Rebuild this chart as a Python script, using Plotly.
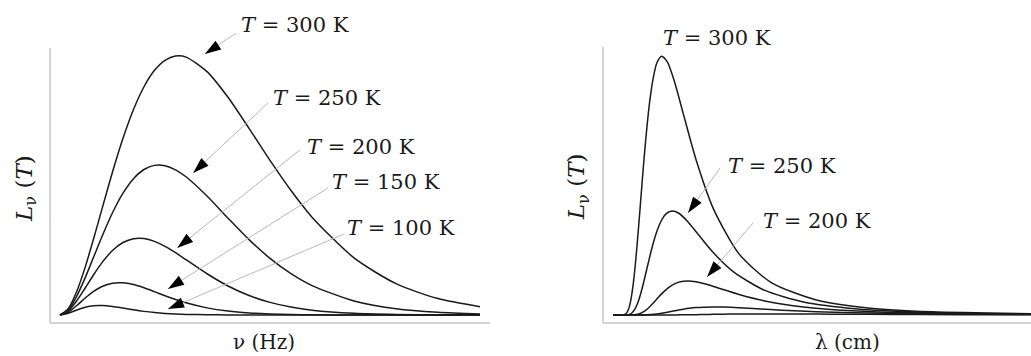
import plotly.graph_objects as go

# ---- Spectral radiance per unit frequency (left panel) ----
nu = [0, 0.2, 0.4, 0.6, 0.8, 1.0, 1.25, 1.5, 1.75, 2.0, 2.25, 2.5, 2.75, 3.0,
      3.5, 4.0, 4.5, 5.0, 5.5, 6.0, 7.0, 8.0, 9.0, 10.0]
L_nu_300 = [0, 0.0361, 0.1301, 0.2627, 0.4178, 0.5820, 0.7843, 0.9693, 1.1272, 1.2521,
            1.3420, 1.3973, 1.4203, 1.4147, 1.3350, 1.1941, 1.0237, 0.8480, 0.6827,
            0.5367, 0.3131, 0.1718, 0.0900, 0.0454]
L_nu_250 = [0, 0.0295, 0.1039, 0.2048, 0.3177, 0.4310, 0.5610, 0.6684, 0.7479, 0.7981,
            0.8207, 0.8187, 0.7964, 0.7585, 0.6527, 0.5311, 0.4134, 0.3106, 0.2266,
            0.1614, 0.0771, 0.0347, 0.0149, 0.0061]
L_nu_200 = [0, 0.0229, 0.0778, 0.1480, 0.2207, 0.2872, 0.3538, 0.3976, 0.4185, 0.4192,
            0.4036, 0.3763, 0.3417, 0.3033, 0.2262, 0.1590, 0.1068, 0.0692, 0.0435,
            0.0267, 0.0094, 0.0031, 0.0010, 0.0003]
L_nu_150 = [0, 0.0163, 0.0522, 0.0931, 0.1295, 0.1565, 0.1747, 0.1768, 0.1669, 0.1493,
            0.1280, 0.1060, 0.0853, 0.0671, 0.0391, 0.0215, 0.0112, 0.0057, 0.0028,
            0.0013, 0.0003, 0.0001, 0.0, 0.0]
L_nu_100 = [0, 0.0097, 0.0276, 0.0428, 0.0511, 0.0524, 0.0470, 0.0379, 0.0283, 0.0199,
            0.0134, 0.0086, 0.0054, 0.0033, 0.0012, 0.0004, 0.0001, 0, 0, 0, 0, 0, 0, 0]

# ---- Spectral radiance per unit wavelength (right panel) ----
lam_300 = [0.012, 0.05, 0.0625, 0.0714, 0.08, 0.0909, 0.1, 0.1111, 0.125, 0.1333, 0.1429,
           0.1538, 0.1667, 0.1818, 0.2, 0.2222, 0.25, 0.2857, 0.3333, 0.4, 0.5, 0.625,
           0.8, 1.0, 1.25, 1.667]
L_lam_300 = [0, 0.0003, 0.0056, 0.0211, 0.0536, 0.1268, 0.2141, 0.3436, 0.5184, 0.6191,
             0.7232, 0.8237, 0.9110, 0.9737, 0.9995, 0.9774, 0.9008, 0.7711, 0.6003,
             0.4117, 0.2361, 0.1251, 0.0578, 0.0274, 0.0126, 0.0045]
lam_250 = [0.012, 0.06, 0.075, 0.0857, 0.096, 0.1091, 0.12, 0.1333, 0.15, 0.16, 0.1714,
           0.1846, 0.2, 0.2182, 0.24, 0.2667, 0.3, 0.3429, 0.4, 0.48, 0.6, 0.75, 0.96,
           1.2, 1.5, 2.0]
L_lam_250 = [0, 0.0001, 0.0022, 0.0085, 0.0215, 0.0510, 0.0860, 0.1381, 0.2083, 0.2488,
             0.2906, 0.3310, 0.3661, 0.3913, 0.4016, 0.3928, 0.3620, 0.3099, 0.2412,
             0.1655, 0.0949, 0.0503, 0.0232, 0.0110, 0.0051, 0.0018]
lam_200 = [0.012, 0.075, 0.0938, 0.1071, 0.12, 0.1364, 0.15, 0.1667, 0.1875, 0.2, 0.2143,
           0.2308, 0.25, 0.2727, 0.3, 0.3333, 0.375, 0.4286, 0.5, 0.6, 0.75, 0.9375,
           1.2, 1.5, 1.875, 2.5]
L_lam_200 = [0, 0.0, 0.0007, 0.0028, 0.0071, 0.0167, 0.0282, 0.0452, 0.0683, 0.0815,
             0.0952, 0.1085, 0.1200, 0.1282, 0.1316, 0.1287, 0.1186, 0.1015, 0.0790,
             0.0542, 0.0311, 0.0165, 0.0076, 0.0036, 0.0017, 0.0006]
lam_150 = [0.012, 0.1, 0.125, 0.1429, 0.16, 0.1818, 0.2, 0.2222, 0.25, 0.2667, 0.2857,
           0.3077, 0.3333, 0.3636, 0.4, 0.4444, 0.5, 0.5714, 0.6667, 0.8, 1.0, 1.25,
           1.6, 2.0, 2.5, 3.333]
L_lam_150 = [0, 0.0, 0.0002, 0.0007, 0.0017, 0.0040, 0.0067, 0.0107, 0.0162, 0.0193,
             0.0226, 0.0257, 0.0285, 0.0304, 0.0312, 0.0305, 0.0281, 0.0241, 0.0188,
             0.0129, 0.0074, 0.0039, 0.0018, 0.0009, 0.0004, 0.0001]
lam_100 = [0.012, 0.15, 0.1875, 0.2143, 0.24, 0.2727, 0.3, 0.3333, 0.375, 0.4, 0.4286,
           0.4615, 0.5, 0.5455, 0.6, 0.6667, 0.75, 0.8571, 1.0, 1.2, 1.5, 1.875, 2.4, 3.0]
L_lam_100 = [0, 0, 0, 0.0001, 0.0002, 0.0005, 0.0009, 0.0014, 0.0021, 0.0025, 0.0030,
             0.0034, 0.0037, 0.0040, 0.0041, 0.0040, 0.0037, 0.0032, 0.0025, 0.0017,
             0.0010, 0.0005, 0.0002, 0.0001]

temps = ["300", "250", "200", "150", "100"]
left_series = [L_nu_300, L_nu_250, L_nu_200, L_nu_150, L_nu_100]
right_series = [(lam_300, L_lam_300), (lam_250, L_lam_250), (lam_200, L_lam_200),
                (lam_150, L_lam_150), (lam_100, L_lam_100)]

CURVE = "#1a1a1a"
AXIS = "#c6c6c6"
POINTER = "#b8b8b8"
HEAD = "#000000"
TEXT = "#1a1a1a"
FONT = "DejaVu Serif"

fig = go.Figure()

curve_line = dict(color=CURVE, width=1.5, shape="spline", smoothing=0.7)
for t, ys in zip(temps, left_series):
    fig.add_trace(go.Scatter(x=nu, y=ys, mode="lines", line=curve_line,
                             xaxis="x", yaxis="y", name=t + " K",
                             showlegend=False, hoverinfo="skip"))
for t, (xs, ys) in zip(temps, right_series):
    fig.add_trace(go.Scatter(x=xs, y=ys, mode="lines", line=curve_line,
                             xaxis="x2", yaxis="y2", name=t + " K",
                             showlegend=False, hoverinfo="skip"))

# Label placement: (text centre, pointer tail, pointer tip) in each panel's units
left_labels = {
    "300": ((5.595, 1.591), (4.19, 1.545), (3.45, 1.432)),
    "250": ((6.357, 1.190), (4.95, 1.163), (3.17, 0.779)),
    "200": ((7.167, 0.922), (5.71, 0.905), (2.79, 0.368)),
    "150": ((7.762, 0.730), (6.38, 0.697), (2.57, 0.143)),
    "100": ((8.119, 0.477), (6.76, 0.444), (2.57, 0.033)),
}
right_labels = {
    "300": ((0.4147, 1.0695), None, None),
    "250": ((0.6667, 0.5753), (0.4264, 0.5676), (0.3023, 0.3938)),
    "200": ((0.8023, 0.3629), (0.5543, 0.3552), (0.3760, 0.1467)),
}

annotations = []


def add_labels(labels, xref, yref):
    for t, (centre, tail, tip) in labels.items():
        annotations.append(dict(
            x=centre[0], y=centre[1], xref=xref, yref=yref,
            text="<i>T</i> = %s K" % t, showarrow=False,
            xanchor="center", yanchor="middle",
            font=dict(family=FONT, size=21, color=TEXT)))
        if tail is None:
            continue
        # thin grey leader line
        fig.add_trace(go.Scatter(
            x=[tail[0], tip[0]], y=[tail[1], tip[1]], mode="lines",
            xaxis=xref, yaxis=yref, showlegend=False, hoverinfo="skip",
            line=dict(color=POINTER, width=1)))
        # solid black arrow head at the tip
        fig.add_trace(go.Scatter(
            x=[tail[0], tip[0]], y=[tail[1], tip[1]], mode="markers",
            xaxis=xref, yaxis=yref, showlegend=False, hoverinfo="skip",
            marker=dict(symbol=["circle", "arrow"], size=[0, 17], color=HEAD,
                        opacity=1, angleref="previous", line=dict(width=0))))


add_labels(left_labels, "x", "y")
add_labels(right_labels, "x2", "y2")

# Axis titles
title_font = dict(family=FONT, size=20, color=TEXT)
ylab_font = dict(family=FONT, size=23, color=TEXT)
annotations += [
    dict(x=0.2561, y=0.038, xref="paper", yref="paper", showarrow=False, borderpad=0,
         xanchor="center", yanchor="middle", text="ν (Hz)", font=title_font),
    dict(x=0.8225, y=0.038, xref="paper", yref="paper", showarrow=False, borderpad=0,
         xanchor="center", yanchor="middle", text="λ (cm)", font=title_font),
    dict(x=0.0245, y=0.470, xref="paper", yref="paper", showarrow=False, textangle=-90,
         xanchor="center", yanchor="middle",
         text="<i>L</i><sub>ν</sub> (<i>T</i>)", font=ylab_font),
    dict(x=0.5606, y=0.477, xref="paper", yref="paper", showarrow=False, textangle=-90,
         xanchor="center", yanchor="middle",
         text="<i>L</i><sub>ν</sub> (<i>T</i>)", font=ylab_font),
]

# Plain axis lines (no ticks) for both panels
axis_line = dict(color=AXIS, width=1.5)
shapes = [
    dict(type="line", xref="x", yref="y", x0=-0.238, x1=-0.238, y0=-0.0439, y1=1.4647, line=axis_line),
    dict(type="line", xref="x", yref="y", x0=-0.238, x1=10.238, y0=-0.0439, y1=-0.0439, line=axis_line),
    dict(type="line", xref="x2", yref="y2", x0=-0.0271, x1=-0.0271, y0=-0.0309, y1=1.0347, line=axis_line),
    dict(type="line", xref="x2", yref="y2", x0=-0.0271, x1=1.6318, y0=-0.0309, y1=-0.0309, line=axis_line),
]

hidden = dict(visible=False, showgrid=False, zeroline=False, fixedrange=True)
fig.update_layout(
    width=1031, height=356,
    margin=dict(l=0, r=0, t=0, b=0),
    paper_bgcolor="white", plot_bgcolor="white",
    xaxis=dict(domain=[0, 0.5], range=[-1.4286, 10.845], **hidden),
    yaxis=dict(domain=[0, 1], range=[-0.2249, 1.7279], anchor="x", **hidden),
    xaxis2=dict(domain=[0.5, 1], range=[-0.3663, 1.6318], **hidden),
    yaxis2=dict(domain=[0, 1], range=[-0.1583, 1.2162], anchor="x2", **hidden),
    annotations=annotations,
    shapes=shapes,
    showlegend=False,
)

fig.write_html("out.html")
